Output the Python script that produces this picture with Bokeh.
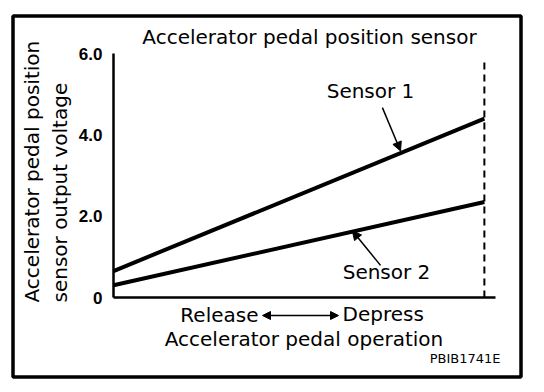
import numpy as np
from bokeh.plotting import figure
from bokeh.models import (Range1d, FixedTicker, Label, Arrow, NormalHead,
                          BoxAnnotation, LinearAxis)
from bokeh.core.properties import value
from bokeh.embed import file_html
from bokeh.resources import INLINE

# ---- data ----
pedal = [0, 100]            # pedal travel, % (release -> full depress)
sensor1 = [0.65, 4.40]      # output voltage, V
sensor2 = [0.30, 2.35]      # output voltage, V
full_depress = 100
dash_top = 5.88
x_end = 103
y_ticks = [0, 2, 4, 6]
y_tick_labels = ["0", "2.0", "4.0", "6.0"]

FONT = "DejaVu Sans"

# ---- geometry: whole canvas is the frame; data origin placed inside ----
W, H = 528, 384
ORIGIN_X, ORIGIN_Y = 113, 297        # pixel of data (0, 0)
PX_X = (495 - 113) / x_end           # pixels per x unit
PX_Y = (297 - 53) / 6                # pixels per volt

p = figure(width=W, height=H, output_backend="svg", toolbar_location=None,
           x_axis_type=None, y_axis_type=None,
           x_range=Range1d(-ORIGIN_X / PX_X, (W - ORIGIN_X) / PX_X),
           y_range=Range1d((ORIGIN_Y - H) / PX_Y, ORIGIN_Y / PX_Y),
           min_border=0)
p.xgrid.visible = False
p.ygrid.visible = False
p.outline_line_color = None
p.background_fill_color = "white"
p.border_fill_color = "white"

# axes crossing at the origin
xa = LinearAxis(fixed_location=0, bounds=(0, x_end), ticker=FixedTicker(ticks=[]),
                axis_line_width=2.5, axis_line_color="black",
                major_tick_out=0, major_tick_in=0, minor_tick_out=0, minor_tick_in=0,
                major_label_standoff=0)
ya = LinearAxis(fixed_location=0, bounds=(0, 6), ticker=FixedTicker(ticks=[]),
                axis_line_width=2.5, axis_line_color="black",
                major_tick_out=0, major_tick_in=0, minor_tick_out=0, minor_tick_in=0,
                major_label_standoff=0)
p.add_layout(xa, "below")
p.add_layout(ya, "left")

# y tick labels
p.text(x=[0] * len(y_ticks), y=y_ticks, text=y_tick_labels, x_offset=-11,
       text_align="right", text_baseline="middle", text_color="black",
       text_font=value("Liberation Sans"), text_font_style="bold",
       text_font_size=value("17px"))

# sensor lines
p.line(pedal, sensor1, line_width=4, line_color="black")
p.line(pedal, sensor2, line_width=4, line_color="black")
# full-depress dashed marker
p.line([full_depress, full_depress], [0, dash_top], line_width=2,
       line_color="black", line_dash="7 5")

# outer frame
p.add_layout(BoxAnnotation(left=(12.5 - ORIGIN_X) / PX_X, right=(520.5 - ORIGIN_X) / PX_X,
                           top=(ORIGIN_Y - 15.5) / PX_Y, bottom=(ORIGIN_Y - 376.5) / PX_Y,
                           fill_color=None, fill_alpha=0,
                           line_color="black", line_alpha=1.0, line_width=3.5))

def lab(px, py, text, size="20px", align="center", angle=0, style="normal", font=FONT):
    p.add_layout(Label(x=(px - ORIGIN_X) / PX_X, y=(ORIGIN_Y - py) / PX_Y, text=text,
                       text_font=font, text_font_size=size,
                       text_align=align, text_baseline="middle", angle=angle,
                       angle_units="deg", text_color="black", text_font_style=style))

lab(309, 36, "Accelerator pedal position sensor")
lab(31.5, 302, "Accelerator pedal position", align="left", angle=90)
lab(59.5, 302, "sensor output voltage", align="left", angle=90)
lab(370, 90, "Sensor 1")
lab(386, 271, "Sensor 2")
lab(258, 314, "Release", align="right")
lab(342, 313, "Depress", align="left")
lab(303.5, 338, "Accelerator pedal operation")
lab(500, 358, "PBIB1741E", size="13px", align="right")

# leader arrows to each curve
s1_tip_x = 77.4
s2_tip_x = 64.4
s1_tip_y = float(np.interp(s1_tip_x, pedal, sensor1)) + 0.05
s2_tip_y = float(np.interp(s2_tip_x, pedal, sensor2)) + 0.02
head = dict(fill_color="black", line_color="black")
p.add_layout(Arrow(x_start=72.5, y_start=4.67, x_end=s1_tip_x, y_end=s1_tip_y,
                   line_width=1.5, line_color="black", end=NormalHead(size=9, **head)))
p.add_layout(Arrow(x_start=72.0, y_start=0.79, x_end=s2_tip_x, y_end=s2_tip_y,
                   line_width=1.5, line_color="black", end=NormalHead(size=9, **head)))
# Release <-> Depress arrow
ay = (ORIGIN_Y - 315) / PX_Y
p.add_layout(Arrow(x_start=(262 - ORIGIN_X) / PX_X, y_start=ay,
                   x_end=(338 - ORIGIN_X) / PX_X, y_end=ay,
                   line_width=1.5, line_color="black",
                   start=NormalHead(size=8, **head), end=NormalHead(size=8, **head)))

open("out.html", "w").write(file_html(p, INLINE))
